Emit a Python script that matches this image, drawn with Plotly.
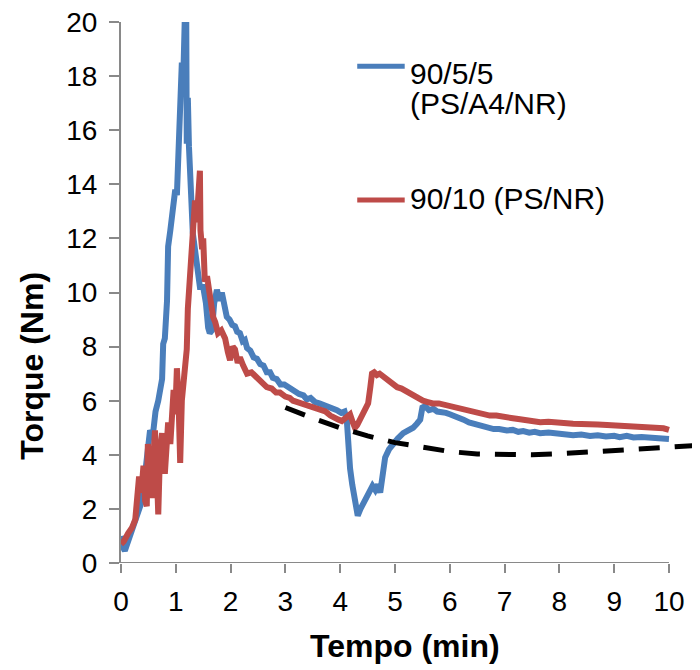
import plotly.graph_objects as go

# 90/5/5 (PS/A4/NR) - blue
blue_time = [
    0.00, 0.03, 0.07, 0.12, 0.20, 0.27, 0.35, 0.40, 0.44, 0.48,
    0.53, 0.58, 0.63, 0.68, 0.72, 0.75, 0.77, 0.80, 0.84, 0.86,
    0.90, 0.95, 0.99, 1.02, 1.05, 1.08, 1.11, 1.14, 1.17, 1.19,
    1.20, 1.22, 1.24, 1.26, 1.28, 1.31, 1.36, 1.41, 1.44, 1.50,
    1.55, 1.59, 1.62, 1.66, 1.70, 1.75, 1.80, 1.84, 1.89, 1.93,
    1.98, 2.03, 2.08, 2.12, 2.17, 2.22, 2.26, 2.30, 2.36, 2.42,
    2.48, 2.54, 2.60, 2.66, 2.72, 2.77, 2.84, 2.91, 2.98, 3.08,
    3.16, 3.25, 3.33, 3.39, 3.46, 3.54, 3.62, 3.69, 3.77, 3.85,
    3.94, 4.02, 4.08, 4.12, 4.14, 4.18, 4.22, 4.27, 4.32, 4.37,
    4.42, 4.48, 4.54, 4.59, 4.64, 4.69, 4.73, 4.78, 4.82, 4.89,
    4.96, 5.05, 5.15, 5.24, 5.33, 5.40, 5.46, 5.50, 5.55, 5.62,
    5.70, 5.77, 5.85, 5.93, 6.00, 6.08, 6.15, 6.25, 6.35, 6.45,
    6.55, 6.61, 6.70, 6.80, 6.90, 7.04, 7.15, 7.25, 7.34, 7.45,
    7.55, 7.65, 7.80, 7.96, 8.10, 8.25, 8.40, 8.56, 8.70, 8.85,
    9.00, 9.10, 9.23, 9.35, 9.50, 9.65, 9.84, 10.00,
]
blue_torque = [
    1.0, 0.6, 0.45, 0.75, 1.1, 1.5, 2.1, 2.6, 3.3, 3.8,
    4.9, 4.7, 5.6, 6.0, 6.4, 6.8, 8.1, 8.3, 9.7, 11.7,
    12.3, 13.4, 13.8, 13.6, 15.6, 17.1, 18.5, 18.2, 20.6, 20.4,
    15.5, 17.2, 15.4, 13.7, 13.6, 12.2, 11.4, 10.6, 10.2, 10.2,
    9.6, 8.7, 8.5, 8.6, 9.6, 10.1, 9.7, 10.0, 9.4, 9.1,
    9.0, 8.8, 8.75, 8.55, 8.5, 8.2, 8.25, 7.95, 7.85, 7.6,
    7.55, 7.35, 7.3, 7.05, 7.05, 6.85, 6.8, 6.6, 6.6, 6.45,
    6.35, 6.25, 6.2, 6.05, 6.1, 5.95, 5.9, 5.85, 5.8, 5.7,
    5.65, 5.55, 5.6, 5.3, 4.3, 3.5, 2.9, 2.4, 1.75, 2.0,
    2.2, 2.5, 2.7, 2.85, 2.7, 2.9, 2.6, 3.2, 3.9, 4.2,
    4.4, 4.6, 4.8, 4.9, 5.0, 5.15, 5.3, 5.75, 5.8, 5.65,
    5.7, 5.6, 5.6, 5.55, 5.5, 5.45, 5.35, 5.3, 5.2, 5.15,
    5.05, 5.05, 5.0, 4.95, 4.95, 4.9, 4.92, 4.85, 4.88, 4.82,
    4.85, 4.8, 4.82, 4.78, 4.78, 4.72, 4.75, 4.7, 4.72, 4.68,
    4.7, 4.65, 4.7, 4.64, 4.66, 4.62, 4.62, 4.58,
]

# 90/10 (PS/NR) - red
red_time = [
    0.00, 0.05, 0.13, 0.20, 0.26, 0.30, 0.33, 0.37, 0.41, 0.44,
    0.47, 0.49, 0.53, 0.57, 0.60, 0.62, 0.65, 0.68, 0.71, 0.75,
    0.80, 0.83, 0.86, 0.90, 0.93, 0.96, 0.99, 1.02, 1.05, 1.08,
    1.11, 1.14, 1.17, 1.20, 1.22, 1.26, 1.30, 1.35, 1.38, 1.41,
    1.44, 1.45, 1.48, 1.50, 1.53, 1.57, 1.62, 1.68, 1.72, 1.77,
    1.83, 1.90, 1.95, 1.99, 2.04, 2.08, 2.13, 2.17, 2.23, 2.30,
    2.38, 2.48, 2.57, 2.66, 2.75, 2.83, 2.90, 3.00, 3.08, 3.14,
    3.22, 3.30, 3.39, 3.48, 3.57, 3.65, 3.73, 3.82, 3.90, 3.97,
    4.03, 4.10, 4.18, 4.23, 4.27, 4.31, 4.36, 4.41, 4.45, 4.51,
    4.55, 4.58, 4.62, 4.67, 4.72, 4.78, 4.85, 4.92, 4.98, 5.04,
    5.12, 5.20, 5.27, 5.35, 5.43, 5.51, 5.60, 5.69, 5.80, 5.90,
    5.95, 6.05, 6.15, 6.25, 6.35, 6.42, 6.55, 6.65, 6.73, 6.85,
    6.95, 7.04, 7.15, 7.25, 7.34, 7.45, 7.55, 7.65, 7.80, 7.96,
    8.10, 8.25, 8.40, 8.56, 8.70, 8.87, 9.05, 9.23, 9.35, 9.47,
    9.60, 9.78, 9.90, 10.00,
]
red_torque = [
    0.7, 0.8, 1.1, 1.3, 1.6, 2.3, 3.2, 2.6, 3.6, 2.3,
    2.1, 4.4, 3.0, 2.4, 4.2, 4.9, 3.6, 1.8, 4.0, 4.8,
    3.3, 5.0, 5.2, 4.4, 5.6, 6.4, 5.5, 7.2, 6.0, 3.7,
    6.0, 6.8, 7.6, 7.9, 9.4, 10.5, 11.7, 13.4, 12.6, 14.2,
    14.5, 12.3, 11.6, 12.0, 10.4, 10.6, 9.7, 9.1, 8.9, 8.5,
    8.6, 8.3, 7.8, 7.5, 8.0, 7.9, 7.4, 7.6, 7.3, 7.0,
    7.05, 6.85, 6.7, 6.5, 6.45, 6.3, 6.3, 6.15, 6.1, 6.0,
    5.95, 5.9, 5.85, 5.75, 5.75, 5.65, 5.6, 5.45, 5.4, 5.3,
    5.25, 5.4, 5.5, 5.2, 5.0, 5.1, 5.3, 5.45, 5.65, 5.9,
    6.5, 7.0, 7.05, 6.95, 7.0, 6.9, 6.8, 6.7, 6.6, 6.5,
    6.45, 6.35, 6.3, 6.15, 6.1, 6.0, 5.95, 5.9, 5.9, 5.85,
    5.85, 5.75, 5.75, 5.7, 5.65, 5.6, 5.55, 5.5, 5.45, 5.45,
    5.4, 5.4, 5.35, 5.32, 5.3, 5.25, 5.22, 5.2, 5.22, 5.18,
    5.2, 5.15, 5.14, 5.1, 5.12, 5.1, 5.08, 5.1, 5.05, 5.02,
    5.03, 5.0, 4.98, 4.92,
]

# dashed black trend curve
trend_time = [3.0, 3.5, 4.0, 4.5, 5.0, 5.5, 6.0, 6.5, 7.0, 7.5, 8.0, 8.5, 9.0, 9.5, 10.0, 10.6]
trend_torque = [5.75, 5.35, 5.0, 4.7, 4.45, 4.28, 4.12, 4.03, 4.0, 4.0, 4.04, 4.09, 4.15, 4.22, 4.28, 4.36]

x_ticks = list(range(0, 11))

BLUE = "#4a7ebb"
RED = "#be4b48"
GREY = "#898989"
FONT = "Arial, Liberation Sans, sans-serif"

fig = go.Figure()
fig.add_trace(go.Scatter(x=blue_time, y=blue_torque, mode="lines",
                         name="90/5/5 (PS/A4/NR)", line=dict(color=BLUE, width=6)))
fig.add_trace(go.Scatter(x=red_time, y=red_torque, mode="lines",
                         name="90/10 (PS/NR)", line=dict(color=RED, width=6)))
fig.add_trace(go.Scatter(x=trend_time, y=trend_torque, mode="lines",
                         name="trend", line=dict(color="black", width=5, dash="21px,15px")))

# page body has an 8px margin, so the figure is a bit smaller than the window
fig.update_layout(
    width=692, height=662,
    margin=dict(l=113, r=0, t=14, b=107),
    plot_bgcolor="white", paper_bgcolor="white",
    showlegend=False,
    font=dict(family=FONT, size=28, color="black"),
)
fig.update_xaxes(range=[0, 10.566], tickvals=x_ticks, ticks="outside", ticklen=9,
                 tickwidth=2, tickcolor=GREY, showline=False, showgrid=False,
                 zeroline=False, ticklabelstandoff=4, ticklabeloverflow="allow")
fig.update_yaxes(range=[0, 20], dtick=2, ticks="outside", ticklen=10, tickwidth=2,
                 tickcolor=GREY, showline=True, linecolor=GREY, linewidth=2,
                 showgrid=False, zeroline=False, ticklabelstandoff=6,
                 ticklabeloverflow="allow")

# x axis line only up to 10
fig.add_shape(type="line", xref="x", yref="y", x0=0, x1=10, y0=0, y1=0,
              line=dict(color=GREY, width=2))

# axis titles
fig.add_annotation(text="<b>Torque (Nm)</b>", xref="paper", yref="paper",
                   x=-0.155, y=0.365, textangle=-90, showarrow=False,
                   font=dict(size=32), xanchor="center", yanchor="middle")
fig.add_annotation(text="<b>Tempo (min)</b>", xref="paper", yref="paper",
                   x=0.49, y=-0.153, showarrow=False,
                   font=dict(size=32), xanchor="center", yanchor="middle")

# legend
fig.add_shape(type="line", xref="paper", yref="paper", x0=0.408, x1=0.490,
              y0=0.918, y1=0.918, line=dict(color=BLUE, width=5))
fig.add_shape(type="line", xref="paper", yref="paper", x0=0.408, x1=0.490,
              y0=0.671, y1=0.671, line=dict(color=RED, width=5))
fig.add_annotation(text="90/5/5", xref="paper", yref="paper", x=0.496, y=0.904,
                   showarrow=False, xanchor="left", yanchor="middle", font=dict(size=30))
fig.add_annotation(text="(PS/A4/NR)", xref="paper", yref="paper", x=0.496, y=0.849,
                   showarrow=False, xanchor="left", yanchor="middle", font=dict(size=30))
fig.add_annotation(text="90/10 (PS/NR)", xref="paper", yref="paper", x=0.496, y=0.673,
                   showarrow=False, xanchor="left", yanchor="middle", font=dict(size=30))

fig.write_html("out.html")
